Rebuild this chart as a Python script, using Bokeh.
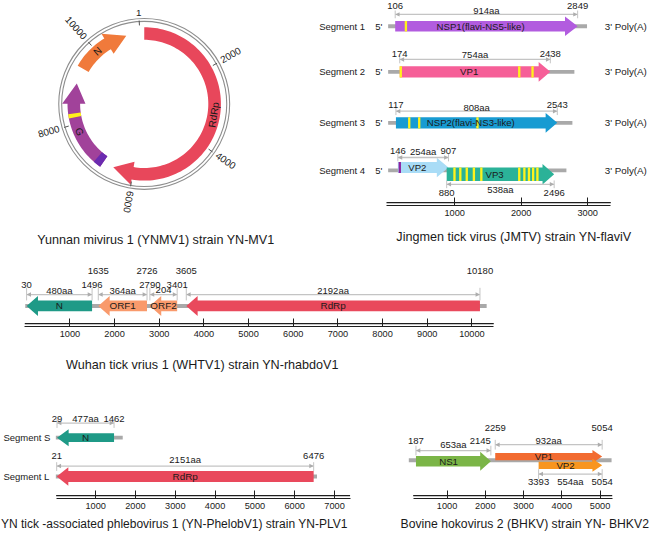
import math
from bokeh.plotting import figure
from bokeh.models import ColumnDataSource, Range1d, LinearAxis, FixedTicker
from bokeh.layouts import column, row
from bokeh.core.properties import value
from bokeh.embed import file_html
from bokeh.resources import INLINE

FONT = "Liberation Sans"
S = 0.971          # page px per reference px
TXT = "#1A1A1A"
GRAY = "#A9A9A9"
DIM = "#C4C4C4"
DIMHEAD = "#ADADAD"
YELLOW = "#FFF21C"
AXC = "#1F1F1F"
NUM = "9.5px"

# ---------------- data ----------------
ynmv_title = "Yunnan mivirus 1 (YNMV1) strain YN-MV1"
ynmv_genome = 11200
ynmv_ticks = [1, 2000, 4000, 6000, 8000, 10000]
ynmv_genes = ["RdRp", "G", "N"]
ynmv_start = [110, 6800, 9440]
ynmv_end = [6520, 9030, 10850]
ynmv_mark_start = [6800, 8170]
ynmv_mark_end = [6990, 8270]

jm_title = "Jingmen tick virus (JMTV) strain YN-flaviV"
jm_segments = ["Segment 1", "Segment 2", "Segment 3", "Segment 4"]
jm_seg_length = [2990, 2800, 2770, 2680]
jm_genes = ["NSP1(flavi-NS5-like)", "VP1", "NSP2(flavi-NS3-like)", "VP2", "VP3"]
jm_start = [106, 174, 117, 146, 880]
jm_end = [2849, 2438, 2543, 907, 2496]
jm_aa = ["914aa", "754aa", "808aa", "254aa", "538aa"]
jm_mark_gene = [0, 1, 1, 1, 2, 2, 2, 3, 4, 4, 4, 4, 4, 4, 4, 4, 4, 4]
jm_mark_pos = [267, 190, 1971, 2171, 317, 467, 1343, 175, 997, 1085, 1182, 1289,
               1401, 1971, 2048, 2117, 2180, 2244]
jm_ticks = [1000, 2000, 3000]

wh_title = "Wuhan tick vrius 1 (WHTV1) strain YN-rhabdoV1"
wh_genome = 10330
wh_genes = ["N", "ORF1", "ORF2", "RdRp"]
wh_start = [30, 1635, 2790, 3605]
wh_end = [1496, 2726, 3401, 10180]
wh_aa = ["480aa", "364aa", "204", "2192aa"]
wh_ticks = [1000, 2000, 3000, 4000, 5000, 6000, 7000, 8000, 9000, 10000]

pl_title = "YN tick -associated phlebovirus 1 (YN-PhelobV1) strain YN-PLV1"
pl_segments = ["Segment S", "Segment L"]
pl_seg_length = [1680, 6560]
pl_genes = ["N", "RdRp"]
pl_start = [29, 21]
pl_end = [1462, 6476]
pl_aa = ["477aa", "2151aa"]
pl_ticks = [1000, 2000, 3000, 4000, 5000, 6000, 7000]

bh_title = "Bovine hokovirus 2 (BHKV) strain YN- BHKV2"
bh_genome = 5300
bh_genes = ["NS1", "VP1", "VP2"]
bh_start = [187, 2259, 3393]
bh_end = [2145, 5054, 5054]
bh_aa = ["653aa", "932aa", "554aa"]
bh_ticks = [1000, 2000, 3000, 4000, 5000]

# ---------------- helpers ----------------
def new_fig(width, height, xr, yr, bottom=0):
    p = figure(width=width, height=height, x_range=xr, y_range=yr,
               x_axis_type=None, y_axis_type=None,
               output_backend="svg", toolbar_location=None,
               min_border=0, min_border_bottom=bottom)
    p.outline_line_color = None
    p.background_fill_color = "white"
    p.border_fill_color = "white"
    return p


def draw_text(p, xs, ys, texts, size, align="center", angle=0.0, color=TXT):
    n = len(texts)
    aligns = align if isinstance(align, list) else [align] * n
    angles = angle if isinstance(angle, list) else [angle] * n
    src = ColumnDataSource(dict(x=list(xs), y=list(ys), t=list(texts), a=aligns, ang=angles))
    p.text(x="x", y="y", text="t", source=src, text_font=value(FONT),
           text_font_size=value(size), text_align="a", text_baseline="middle",
           text_color=color, angle="ang")


def title_strip(width, height, text, x, y, align="center", size="12.6px"):
    p = new_fig(width, height, Range1d(0, width), Range1d(height, 0))
    draw_text(p, [x], [y], [text], size, align)
    return p


class Linear:
    def __init__(self, width, ref_left, ref_top, ref_axis, x0, k, bottom=18):
        self.x0, self.k = x0, k
        frame_h = round((ref_axis - ref_top) * S)
        self.height = frame_h + bottom
        self.axis_y = ref_top + frame_h / S
        nt0 = (ref_left - x0) / k
        nt1 = nt0 + width / S / k
        self.p = new_fig(width, self.height, Range1d(nt0, nt1),
                         Range1d(self.axis_y, ref_top), bottom)

    def nt(self, xref):
        return (xref - self.x0) / self.k

    def span(self, px):
        return px / self.k

    def axis(self, ticks, ref_a, ref_b, standoff=4):
        b0, b1 = self.nt(ref_a), self.nt(ref_b)
        ax = LinearAxis(ticker=FixedTicker(ticks=ticks), bounds=(b0, b1),
                        major_tick_in=8, major_tick_out=0,
                        minor_tick_line_color=None,
                        axis_line_color=AXC, axis_line_width=1.2,
                        major_tick_line_color=AXC, major_tick_line_width=1,
                        major_label_text_font=FONT, major_label_text_font_size="9.2px",
                        major_label_text_color=TXT, major_label_standoff=standoff)
        self.p.add_layout(ax, "below")
        self.p.segment(x0=[b0], y0=[self.axis_y - 3], x1=[b1], y1=[self.axis_y - 3],
                       line_color=AXC, line_width=1.2)

    def backbone(self, ys, lengths):
        self.p.hbar(y=ys, left=[0] * len(ys), right=lengths, height=4,
                    fill_color=GRAY, line_color=None)

    def genes(self, starts, ends, ys, bodies, heads, head_px, forward, colors):
        xs_all, ys_all = [], []
        for s0, e0, yc, b, h, hp, fw in zip(starts, ends, ys, bodies, heads, head_px, forward):
            tail, tip = (s0, e0) if fw else (e0, s0)
            d = 1 if fw else -1
            hl = min(self.span(hp), abs(e0 - s0))
            hb = tip - d * hl
            xs_all.append([tail, hb, hb, tip, hb, hb, tail])
            ys_all.append([yc - b / 2, yc - b / 2, yc - h / 2, yc, yc + h / 2, yc + b / 2, yc + b / 2])
        self.p.patches(xs=xs_all, ys=ys_all, fill_color=colors, line_color=None)

    def marks(self, pos, ys, heights, width_px, colors):
        w = self.span(width_px)
        self.p.quad(left=[x - w / 2 for x in pos], right=[x + w / 2 for x in pos],
                    top=[y - h / 2 for y, h in zip(ys, heights)],
                    bottom=[y + h / 2 for y, h in zip(ys, heights)],
                    fill_color=colors, line_color=None)

    def dims(self, a_list, b_list, y_list, up=6, down=6):
        p = self.p
        p.segment(x0=a_list, y0=y_list, x1=b_list, y1=y_list, line_color=DIM, line_width=1.3)
        h = self.span(4.5)
        xs, ys = [], []
        for a, b, y in zip(a_list, b_list, y_list):
            xs += [[a, a + h, a + h], [b, b - h, b - h]]
            ys += [[y, y - 2.3, y + 2.3], [y, y - 2.3, y + 2.3]]
        p.patches(xs=xs, ys=ys, fill_color=DIMHEAD, line_color=None)
        ends = list(a_list) + list(b_list)
        yy = list(y_list) * 2
        p.segment(x0=ends, y0=[y - up for y in yy], x1=ends, y1=[y + down for y in yy],
                  line_color=DIM, line_width=1)


# ---------------- panel A: circular map ----------------
W1, H1 = 309, 254
YT = H1 / S
pa = new_fig(W1, H1, Range1d(0, W1 / S), Range1d(0, YT))
CX, CY, ROT = 148.0, 106.5, -3.5
R_MID, HALF, HEAD_HALF, HEAD_PX = 72.5, 6.5, 12.0, 21.0
HEAD_DEG = math.degrees(HEAD_PX / R_MID)


def th(nt):
    return ROT + nt / ynmv_genome * 360.0


def polar(t, r):
    a = math.radians(t)
    return CX + r * math.sin(a), YT - CY + r * math.cos(a)


def arc_pts(t0, t1, r):
    n = max(2, int(abs(t1 - t0) / 2) + 1)
    return [polar(t0 + (t1 - t0) * i / n, r) for i in range(n + 1)]


ring_r = [85.0, 88.0]
pa.circle(x=[CX] * 2, y=[YT - CY] * 2, radius=ring_r, fill_color=None,
          line_color="#8E8E8E", line_width=1.1)

gxs, gys = [], []
for s0, e0 in zip(ynmv_start, ynmv_end):
    t0, t1 = th(s0), th(e0)
    base = t1 - HEAD_DEG
    pts = (arc_pts(t0, base, R_MID + HALF)
           + [polar(base, R_MID + HEAD_HALF), polar(t1, R_MID), polar(base, R_MID - HEAD_HALF)]
           + arc_pts(base, t0, R_MID - HALF))
    gxs.append([q[0] for q in pts])
    gys.append([q[1] for q in pts])
pa.patches(xs=gxs, ys=gys, fill_color=["#E8475B", "#A1429A", "#F07A3B"], line_color=None)

mxs, mys = [], []
for s0, e0 in zip(ynmv_mark_start, ynmv_mark_end):
    pts = arc_pts(th(s0), th(e0), R_MID + HALF) + arc_pts(th(e0), th(s0), R_MID - HALF)
    mxs.append([q[0] for q in pts])
    mys.append([q[1] for q in pts])
pa.patches(xs=mxs, ys=mys, fill_color=["#6B2BB0", YELLOW], line_color=None)

tx0, ty0, tx1, ty1 = [], [], [], []
for v in ynmv_ticks:
    a = polar(th(v), 81)
    b = polar(th(v), 86)
    tx0.append(a[0]); ty0.append(a[1]); tx1.append(b[0]); ty1.append(b[1])
pa.segment(x0=tx0, y0=ty0, x1=tx1, y1=ty1, line_color="#555555", line_width=1)

lx, ly, lt, la, lang = [], [], [], [], []
for i, v in enumerate(ynmv_ticks):
    t = th(v)
    if i == 0:
        q = polar(t, 93.5)
        la.append("center"); lang.append(0.0)
    elif t <= 200:
        q = polar(t, 91)
        la.append("left"); lang.append(math.radians(90 - t))
    else:
        q = polar(t, 91)
        la.append("right"); lang.append(math.radians(270 - t))
    lx.append(q[0]); ly.append(q[1]); lt.append(str(v))
draw_text(pa, lx, ly, lt, "9.8px", la, lang)

gx, gy, gang = [], [], []
for s0, e0 in zip(ynmv_start, ynmv_end):
    t0, t1 = th(s0), th(e0)
    tm = (t0 + t1) / 2 - HEAD_DEG / 4
    q = polar(tm, R_MID)
    gx.append(q[0]); gy.append(q[1]); gang.append(math.radians(180 - tm))
draw_text(pa, gx, gy, ynmv_genes, "10px", "center", gang)
draw_text(pa, [160], [YT - 247], [ynmv_title], "12.6px", "center")

# ---------------- panel B: JMTV ----------------
jm = Linear(343, 318, 0, 211, 399.0, 0.0685)
jm_track_y = [26.5, 73.5, 126, 175]
jm_gene_y = [26.5, 73.5, 126, 172, 179]
jm_body = [11, 11.5, 11.5, 11.5, 14]
jm.backbone(jm_track_y, jm_seg_length)
jm.genes(jm_start, jm_end, jm_gene_y, jm_body, [20, 20.5, 20.5, 20, 21],
         [13, 12, 12, 12, 12], [True] * 5,
         ["#B25CDF", "#F65F98", "#189BD2", "#A9DCF6", "#2BB298"])
jm.marks(jm_mark_pos, [jm_gene_y[g] for g in jm_mark_gene], [jm_body[g] for g in jm_mark_gene],
         2.4, ["#8E1FA0" if g == 3 else YELLOW for g in jm_mark_gene])
jm_dim_y = [14.3, 60.7, 114, 161.7, 189.3]
jm_num_y = [5.5, 55.5, 107.5, 155, 198.5]
jm_aa_y = [10.5, 56, 110, 155, 195]
jm.dims(jm_start, jm_end, jm_dim_y, up=4, down=4)
draw_text(jm.p, jm_start + jm_end, jm_num_y + jm_num_y, [str(v) for v in jm_start + jm_end], NUM)
draw_text(jm.p, [(a + b) / 2 for a, b in zip(jm_start, jm_end)], jm_aa_y, jm_aa, NUM)
draw_text(jm.p, [(a + b - jm.span(12)) / 2 for a, b in zip(jm_start, jm_end)], jm_gene_y,
          jm_genes, "9.6px")
draw_text(jm.p, [jm.nt(328)] * 4, jm_track_y, jm_segments, "9.5px", "left")
draw_text(jm.p, [jm.nt(393)] * 4, jm_track_y, ["5'"] * 4, "9.5px", "right")
draw_text(jm.p, [jm.nt(622)] * 4, jm_track_y, ["3' Poly(A)"] * 4, "9.8px", "left")
jm.axis(jm_ticks, 397.3, 628.3)
jm_t = title_strip(343, H1 - jm.height, jm_title, (528.5 - 318) * S, 244 * S - jm.height)

# ---------------- panel C: WHTV1 ----------------
H2 = 154
wh = Linear(652, 0, 262, 336, 25.5, 0.046)
wh_y = 315
wh.backbone([wh_y], [wh_genome])
wh.genes(wh_start, wh_end, [wh_y] * 4, [11] * 4, [20.5] * 4, [11.7] * 4, [False] * 4,
         ["#1F9A87", "#F99A6C", "#F99A6C", "#E9495C"])
wh_row = [1, 0, 1, 0]
row_y = [279.3, 293.5]
wh.dims(wh_start, wh_end, [303.3] * 4, up=7, down=6)
draw_text(wh.p, wh_start + wh_end, [row_y[r] for r in wh_row] * 2,
          [str(v) for v in wh_start + wh_end], NUM)
draw_text(wh.p, [(a + b) / 2 for a, b in zip(wh_start, wh_end)], [299] * 4, wh_aa, NUM)
draw_text(wh.p, [(a + b) / 2 for a, b in zip(wh_start, wh_end)], [wh_y] * 4, wh_genes, "9.9px")
wh.axis(wh_ticks, 25, 508)
wh_t = title_strip(652, H2 - wh.height, wh_title, 207.9 * S, 375 * S - H1 - wh.height)

# ---------------- panel D: PLV1 ----------------
H3 = 131
ROW3 = H1 + H2
pl = Linear(352, 0, 420, 512.3, 57.0, 0.041)
pl_y = [450, 490]
pl.backbone(pl_y, pl_seg_length)
pl.genes(pl_start, pl_end, pl_y, [9, 11.4], [17.5, 19], [12, 12], [False, False],
         ["#1F9A87", "#E9495C"])
pl.dims(pl_start, pl_end, [435, 479.3], up=4, down=5)
draw_text(pl.p, pl_start + pl_end, [430.5, 469] * 2, [str(v) for v in pl_start + pl_end], NUM)
draw_text(pl.p, [(a + b) / 2 for a, b in zip(pl_start, pl_end)], [430.5, 472.3], pl_aa, NUM)
draw_text(pl.p, [(a + b) / 2 for a, b in zip(pl_start, pl_end)], pl_y, pl_genes, "9.9px")
draw_text(pl.p, [pl.nt(3)] * 2, pl_y, pl_segments, "9.5px", "left")
pl.axis(pl_ticks, 57.3, 360)
pl_t = title_strip(352, H3 - pl.height, pl_title, 0.5, 539.3 * S - ROW3 - pl.height, "left", "12px")

# ---------------- panel E: BHKV ----------------
bh = Linear(300, 352 / S, 420, 512.3, 420.5, 0.0394)
bh.backbone([473.3], [bh_genome])
bh_y = [474.3, 469.5, 478.5]
bh.genes(bh_start, bh_end, bh_y, [10.7, 7.5, 7.5], [19.4, 13.5, 13.5], [11, 10, 10],
         [True] * 3, ["#7BB547", "#F26B31", "#F8951F"])
bh_dim_y = [463.3, 457.3, 487.5]
bh.dims(bh_start, bh_end, bh_dim_y, up=5, down=5)
bh_num_y = [453, 440, 495.5]
draw_text(bh.p, bh_start + bh_end, bh_num_y * 2, [str(v) for v in bh_start + bh_end], NUM,
          ["center", "center", "center", "right", "center", "center"])
draw_text(bh.p, [(a + b) / 2 for a, b in zip(bh_start, bh_end)], [456.7, 452.7, 495.5], bh_aa, NUM)
draw_text(bh.p, [(a + b - bh.span(10)) / 2 for a, b in zip(bh_start, bh_end)], bh_y, bh_genes, "9.7px")
bh.axis(bh_ticks, 425, 630)
bh_t = title_strip(300, H3 - bh.height, bh_title, (540 - 352 / S) * S, 539.3 * S - ROW3 - bh.height,
                   "center", "12.2px")

layout = column(row(pa, column(jm.p, jm_t)),
                column(wh.p, wh_t),
                row(column(pl.p, pl_t), column(bh.p, bh_t)))
open("out.html", "w").write(file_html(layout, INLINE))
